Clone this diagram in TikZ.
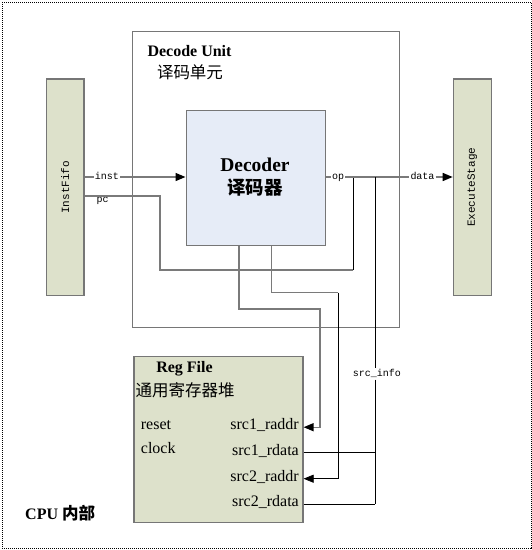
\documentclass[tikz,border=0pt]{standalone}
\usepackage{fontspec}
\setmainfont{Liberation Serif}
\setmonofont{Liberation Mono}
\newfontfamily\cjk{Noto Sans CJK SC}
\usetikzlibrary{arrows.meta,calc}
\definecolor{boxgray}{HTML}{767676}
\definecolor{linegray}{HTML}{7A7A7A}
\definecolor{olivefill}{HTML}{DDE1CB}
\definecolor{bluefill}{HTML}{E6ECF7}
\begin{document}
\begin{tikzpicture}[x=1pt,y=-1pt,
  box/.style={draw=boxgray, line width=1.3pt, anchor=north west, inner sep=0pt},
  olive/.style={box, fill=olivefill},
  mono/.style={font=\fontsize{10}{12}\selectfont\ttfamily, inner sep=1pt, text height=7pt, text depth=2pt},
  vmono/.style={font=\fontsize{11}{13}\selectfont\ttfamily, rotate=90},
  serif/.style={font=\fontsize{16}{19}\selectfont, inner sep=0pt},
  gline/.style={draw=linegray, line width=1.4pt},
  bline/.style={draw=black, line width=0.7pt},
  tip/.style={-{Triangle[length=10pt,width=8pt,color=black]}},
]
\useasboundingbox (0,0) rectangle (532,550);
\node[draw, line width=0.7pt, dash pattern=on 1pt off 1pt, anchor=north west, minimum width=528.5pt, minimum height=545.5pt] (cpu) at (2,2) {};

% boxes
\node[box, minimum width=267pt, minimum height=296pt] (du) at (132,31) {};
\node[olive, minimum width=37.5pt, minimum height=216.5pt] (fifo) at (45.8,78.3) {};
\node[vmono] (fifolbl) at (fifo.center) {InstFifo};
\node[olive, minimum width=38pt, minimum height=216.5pt] (exec) at (452.7,78.3) {};
\node[vmono] (execlbl) at (exec.center) {ExecuteStage};
\node[box, fill=bluefill, minimum width=139pt, minimum height=135pt] (dec) at (185.5,110) {};
\node[inner sep=0pt, font=\fontsize{19.5}{22}\selectfont\bfseries] (declbl) at (255,165) {Decoder};
\node[inner sep=0pt, font=\cjk\fontsize{18.5}{21}\selectfont\bfseries] (deccn) at (255,187.5) {译码器};
\node[olive, minimum width=169pt, minimum height=165.7pt] (reg) at (133.3,356) {};

% titles
\node[serif, font=\fontsize{16}{19}\selectfont\bfseries] (dut) at (189.5,51) {Decode Unit};
\node[inner sep=0pt, font=\cjk\fontsize{16.5}{19}\selectfont] (duc) at (190,72) {译码单元};
\node[serif, font=\fontsize{16}{19}\selectfont\bfseries] (rft) at (184.5,369) {Reg File};
\node[inner sep=0pt, font=\cjk\fontsize{16.5}{19}\selectfont] (rfc) at (185,390) {通用寄存器堆};
\node[serif, anchor=base west] (reset) at (140.7,429) {reset};
\node[serif, anchor=base west] (clock) at (140.7,453.5) {clock};
\node[serif, anchor=base east] (ra1) at (299,429.5) {src1\_raddr};
\node[serif, anchor=base east] (rd1) at (299,455) {src1\_rdata};
\node[serif, anchor=base east] (ra2) at (299,481) {src2\_raddr};
\node[serif, anchor=base east] (rd2) at (299,506.5) {src2\_rdata};
\node[anchor=base west, inner sep=0pt] (cpulbl) at (25,519) {\fontsize{16}{19}\selectfont\bfseries CPU {\cjk\fontsize{16.5}{19}\selectfont\bfseries 内部}};

% signal labels
\node[mono] (inst) at (107,177) {inst};
\node[mono, anchor=north west, inner sep=0.5pt, text height=5pt, text depth=2pt] (pc) at (96,197) {pc};
\node[mono] (op) at (338,177) {op};
\node[mono] (data) at (422.5,177) {data};
\node[mono] (srcinfo) at (377,374) {src\_info};

% bend points
\coordinate (pcb1) at (160,270);
\coordinate (pcb2) at (353,270);
\coordinate (si) at (375,177);
\coordinate (a1) at (239,309);
\coordinate (a1x) at (320,309);
\coordinate (b1) at (271.7,292.5);
\coordinate (b1x) at (338,292.5);

% connectors
\draw[gline] (fifo.east |- inst) -- (inst.west);
\draw[gline, tip] (inst.east) -- (dec.west |- inst);
\draw[gline] (fifo.east |- 0,196) -- (pcb1 |- 0,196) -- (pcb1) -- (pcb2);
\draw[bline] (pcb2) -- (pcb2 |- op);
\draw[gline] (dec.east |- op) -- (op.west);
\draw[gline] (op.east) -- (data.west);
\draw[gline, tip] (data.east) -- (exec.west |- data);
\draw[bline] (si) -- (si |- srcinfo.north);
\draw[bline] (si |- srcinfo.south) -- (si |- rd2.mid);
\draw[bline] (reg.east |- rd1.mid) -- (si |- rd1.mid);
\draw[bline] (reg.east |- rd2.mid) -- (si |- rd2.mid);
\draw[gline, tip] (dec.south -| a1) -- (a1) -- (a1x) -- (a1x |- ra1.mid) -- (reg.east |- ra1.mid);
\draw[gline] (dec.south -| b1) -- (b1) -- (b1x);
\draw[bline, tip] (b1x) -- (b1x |- ra2.mid) -- (reg.east |- ra2.mid);
\end{tikzpicture}
\end{document}
